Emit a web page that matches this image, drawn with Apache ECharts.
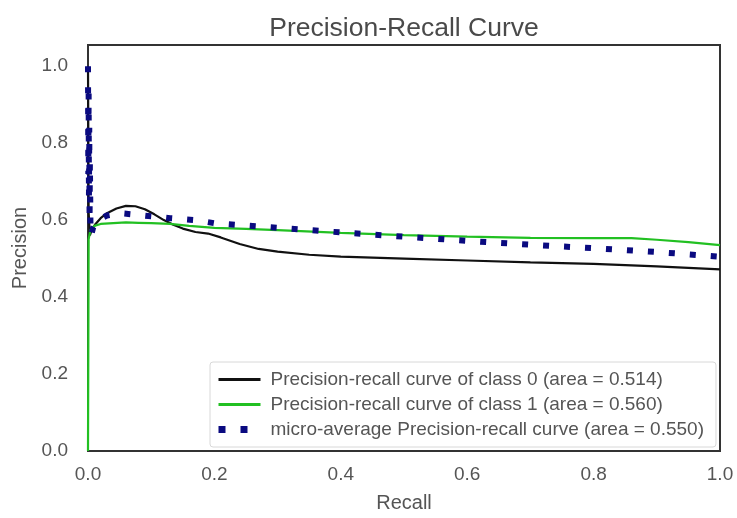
<!DOCTYPE html>
<html><head><meta charset="utf-8">
<script src="https://cdn.jsdelivr.net/npm/echarts@6/dist/echarts.min.js"></script>
<style>html,body{margin:0;padding:0;background:#fff}#c{width:737px;height:518px}</style>
</head><body><div id="c"></div>
<script>
const xTicks = [0, 0.2, 0.4, 0.6, 0.8, 1.0];
const yTicks = [0, 0.2, 0.4, 0.6, 0.8, 1.0];
const seriesNames = [
  'Precision-recall curve of class 0 (area = 0.514)',
  'Precision-recall curve of class 1 (area = 0.560)',
  'micro-average Precision-recall curve (area = 0.550)'
];
const recall0 = [0, 0.001, 0.003, 0.006, 0.012, 0.02, 0.03, 0.045, 0.06, 0.075, 0.09, 0.105, 0.12, 0.135, 0.15, 0.17, 0.19, 0.21, 0.24, 0.27, 0.3, 0.35, 0.4, 0.5, 0.6, 0.7, 0.8, 0.9, 1.0];
const precision0 = [1.0, 0.62, 0.56, 0.575, 0.59, 0.605, 0.618, 0.63, 0.637, 0.636, 0.628, 0.615, 0.6, 0.588, 0.578, 0.569, 0.565, 0.555, 0.538, 0.525, 0.518, 0.51, 0.505, 0.5, 0.495, 0.49, 0.486, 0.48, 0.472];
const recall1 = [0, 0.001, 0.004, 0.01, 0.02, 0.04, 0.06, 0.08, 0.1, 0.13, 0.16, 0.2, 0.25, 0.3, 0.4, 0.5, 0.6, 0.7, 0.8, 0.86, 0.9, 0.95, 1.0];
const precision1 = [0, 0.55, 0.575, 0.585, 0.59, 0.592, 0.594, 0.593, 0.592, 0.59, 0.585, 0.58, 0.577, 0.574, 0.567, 0.561, 0.557, 0.554, 0.553, 0.553, 0.549, 0.543, 0.535];
const recallMicro = [0, 0.0005, 0.001, 0.0015, 0.002, 0.0025, 0.003, 0.004, 0.005, 0.008, 0.015, 0.03, 0.05, 0.07, 0.1, 0.13, 0.17, 0.2, 0.3, 0.4, 0.5, 0.6, 0.7, 0.8, 0.9, 1.0];
const precisionMicro = [1.0, 0.72, 0.93, 0.66, 0.84, 0.6, 0.75, 0.57, 0.56, 0.58, 0.6, 0.612, 0.618, 0.615, 0.61, 0.605, 0.6, 0.592, 0.58, 0.568, 0.557, 0.546, 0.536, 0.527, 0.517, 0.505];

const pairs = (xs, ys) => xs.map((x, i) => [x, ys[i]]);
const FONT = 'Liberation Sans, Arial, sans-serif';
const BLACK = '#111', GREEN = '#22c022', NAVY = '#0a0a80';
const chart = echarts.init(document.getElementById('c'), null, {renderer: 'canvas'});
chart.setOption({
  animation: false,
  backgroundColor: '#fff',
  title: {
    text: 'Precision-Recall Curve', left: 399, top: 10, textAlign: 'center',
    textStyle: {fontFamily: FONT, fontSize: 26.5, fontWeight: 'normal', color: '#4a4a4a'}
  },
  grid: {left: 88, right: 17, top: 45, bottom: 61, show: true, borderColor: '#333', borderWidth: 2, backgroundColor: 'transparent'},
  legend: {
    orient: 'vertical', left: 210, top: 362,
    padding: [8, 12, 8, 5], itemGap: 6, itemWidth: 42, itemHeight: 14,
    backgroundColor: '#fff', borderColor: '#d8d8d8', borderWidth: 1, borderRadius: 3,
    textStyle: {fontFamily: FONT, fontSize: 19, color: '#555', padding: [0, 0, 0, 5]},
    itemStyle: {opacity: 0},
    data: [
      {name: seriesNames[0], itemStyle: {opacity: 0}, lineStyle: {color: BLACK, width: 3}},
      {name: seriesNames[1], itemStyle: {opacity: 0}, lineStyle: {color: GREEN, width: 3}},
      {name: seriesNames[2], itemStyle: {opacity: 0}, lineStyle: {color: NAVY, width: 7, type: [7, 15], cap: 'butt'}}
    ]
  },
  xAxis: {
    type: 'value', min: 0, max: 1, interval: 0.2,
    name: 'Recall', nameLocation: 'middle', nameGap: 42,
    nameTextStyle: {fontFamily: FONT, fontSize: 20, color: '#555'},
    axisLine: {show: false}, axisTick: {show: false}, splitLine: {show: false},
    axisLabel: {fontFamily: FONT, fontSize: 19, color: '#555', margin: 14,
      formatter: v => xTicks.some(t => Math.abs(t - v) < 1e-6) ? v.toFixed(1) : ''}
  },
  yAxis: {
    type: 'value', min: 0, max: 1.055, interval: 0.2,
    name: 'Precision', nameLocation: 'middle', nameGap: 58,
    nameTextStyle: {fontFamily: FONT, fontSize: 20, color: '#555'},
    axisLine: {show: false}, axisTick: {show: false}, splitLine: {show: false},
    axisLabel: {fontFamily: FONT, fontSize: 19, color: '#555', margin: 20,
      formatter: v => yTicks.some(t => Math.abs(t - v) < 1e-6) ? v.toFixed(1) : ''}
  },
  series: [
    {name: seriesNames[0], type: 'line', data: pairs(recall0, precision0), showSymbol: false, symbol: 'none',
     lineStyle: {color: BLACK, width: 2.2}, itemStyle: {color: BLACK}, z: 2},
    {name: seriesNames[1], type: 'line', data: pairs(recall1, precision1), showSymbol: false, symbol: 'none',
     lineStyle: {color: GREEN, width: 2.2}, itemStyle: {color: GREEN}, z: 3},
    {name: seriesNames[2], type: 'line', data: pairs(recallMicro, precisionMicro), showSymbol: false, symbol: 'none',
     lineStyle: {color: NAVY, width: 6, type: [6, 15], cap: 'butt'}, itemStyle: {color: NAVY}, z: 4}
  ]
});
</script></body></html>
